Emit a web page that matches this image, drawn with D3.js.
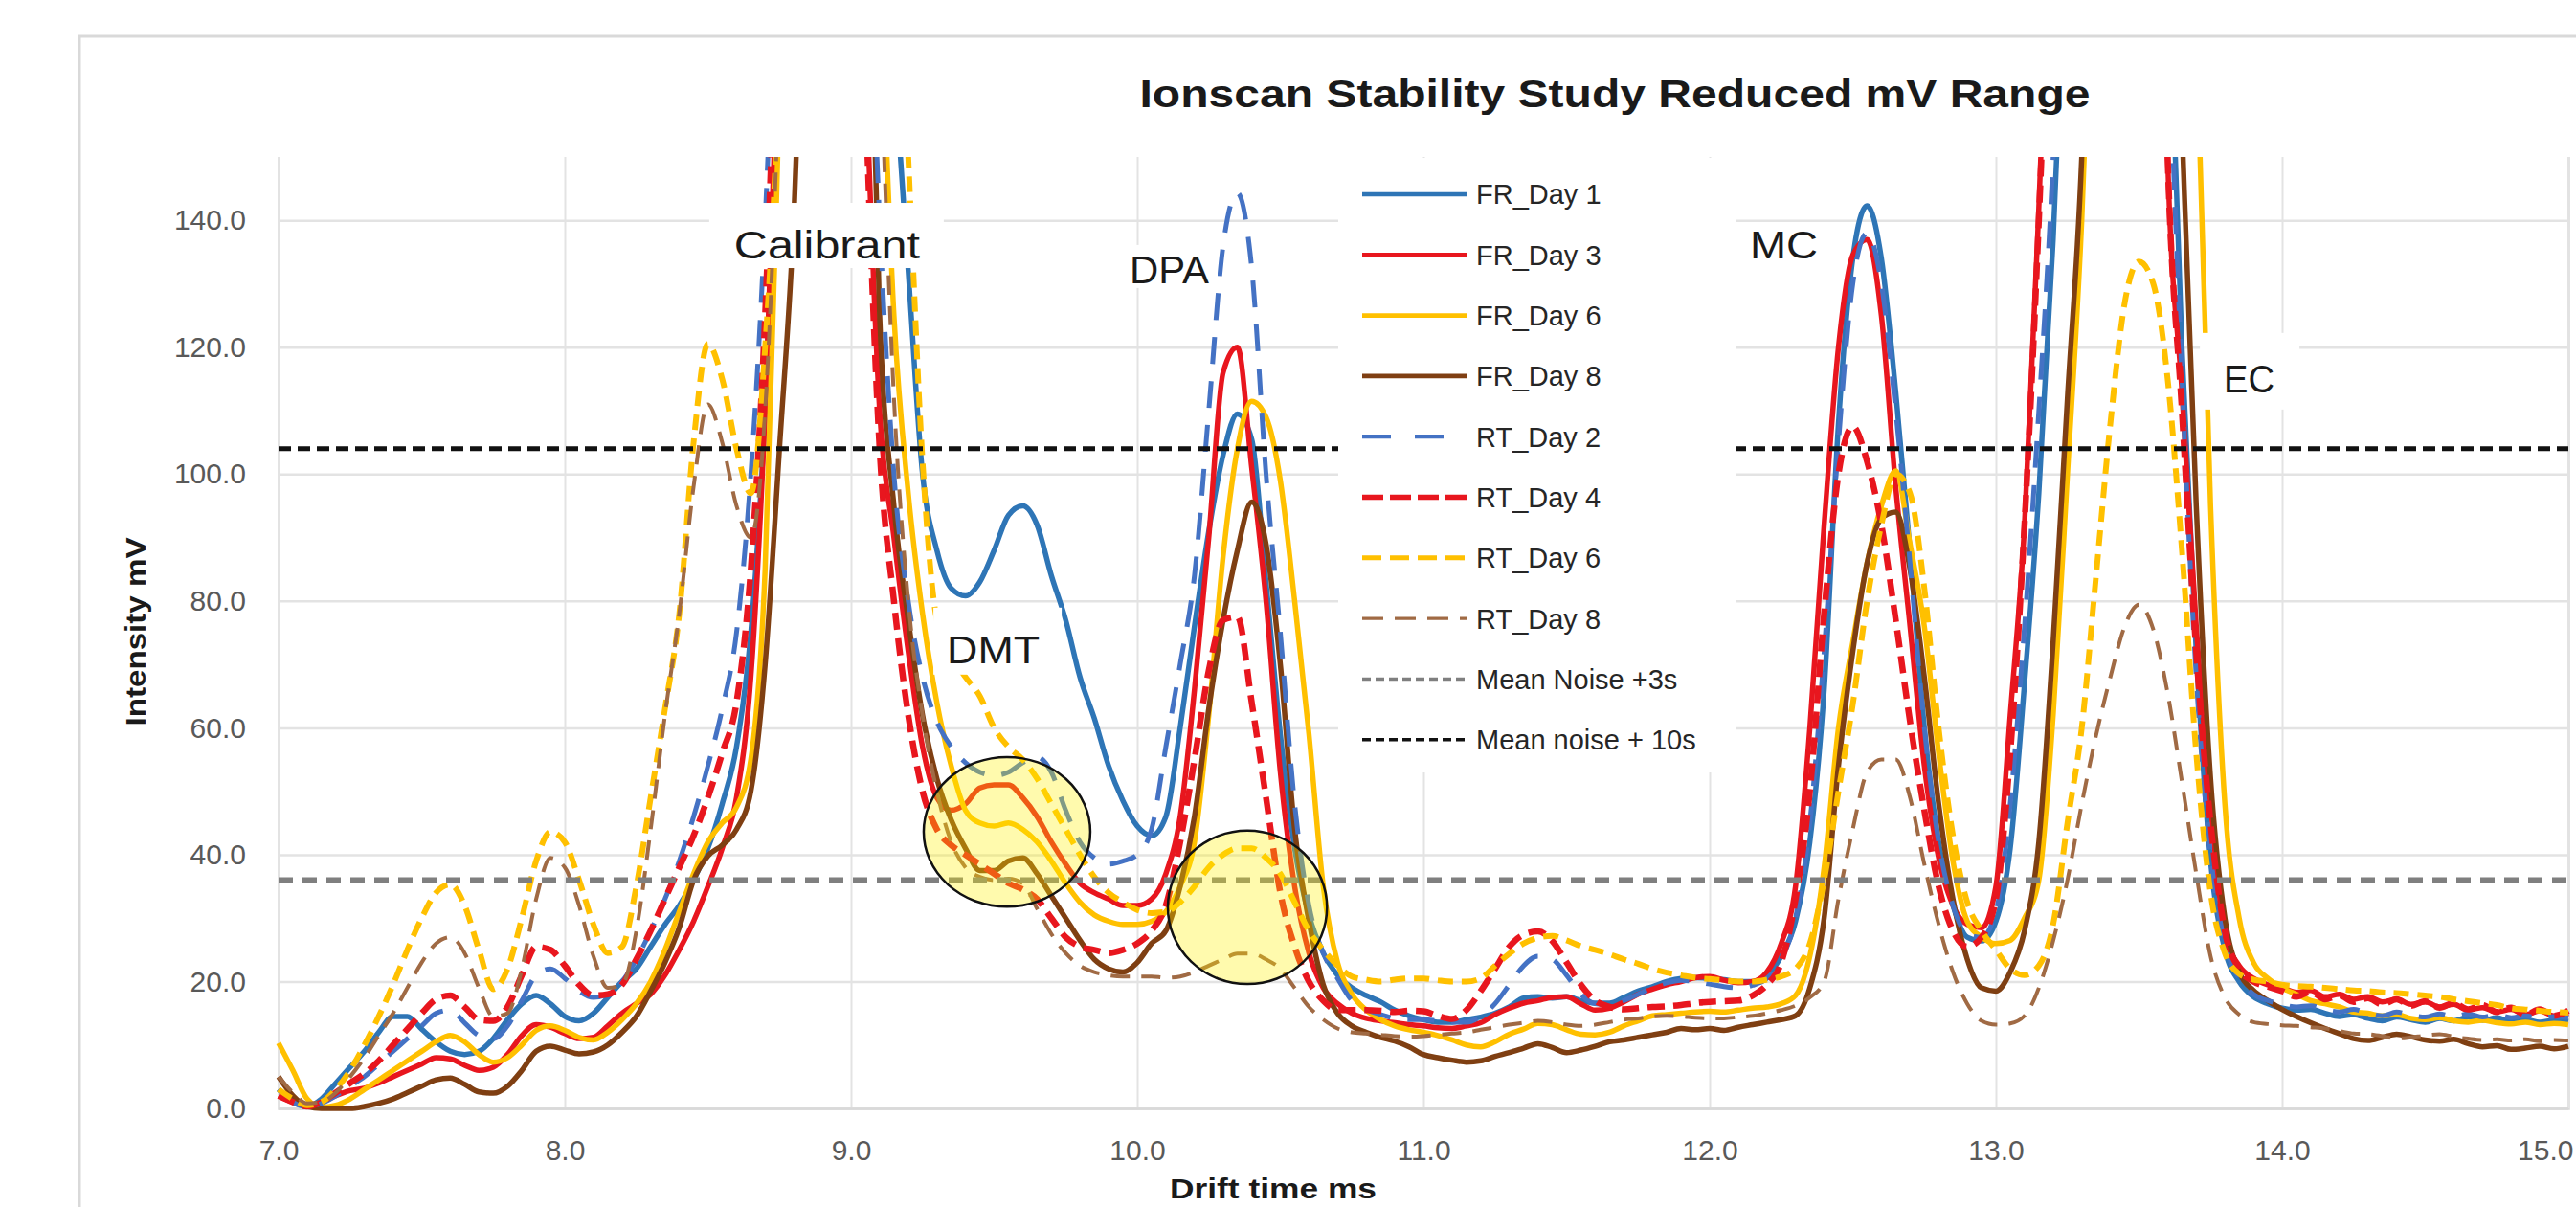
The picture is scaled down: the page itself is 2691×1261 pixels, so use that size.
<!DOCTYPE html>
<html>
<head>
<meta charset="utf-8">
<script src="https://cdn.jsdelivr.net/npm/d3@7"></script>
<style>
html,body{margin:0;padding:0;background:#ffffff;}
svg{display:block;}
</style>
</head>
<body>
<script>
// ---------------- DATA ----------------
const driftTime = [
 7.00,7.05,7.10,7.15,7.20,7.25,7.30,7.35,7.40,7.45,
 7.50,7.55,7.60,7.65,7.70,7.75,7.80,7.85,7.90,7.95,
 8.00,8.05,8.10,8.15,8.20,8.25,8.30,8.35,8.40,8.45,
 8.50,8.55,8.60,8.65,8.70,8.75,8.80,8.85,8.90,8.95,
 9.00,9.05,9.10,9.15,9.20,9.25,9.30,9.35,9.40,9.45,
 9.50,9.55,9.60,9.65,9.70,9.75,9.80,9.85,9.90,9.95,
 10.00,10.05,10.10,10.15,10.20,10.25,10.30,10.35,10.40,10.45,
 10.50,10.55,10.60,10.65,10.70,10.75,10.80,10.85,10.90,10.95,
 11.00,11.05,11.10,11.15,11.20,11.25,11.30,11.35,11.40,11.45,
 11.50,11.55,11.60,11.65,11.70,11.75,11.80,11.85,11.90,11.95,
 12.00,12.05,12.10,12.15,12.20,12.25,12.30,12.35,12.40,12.45,
 12.50,12.55,12.60,12.65,12.70,12.75,12.80,12.85,12.90,12.95,
 13.00,13.05,13.10,13.15,13.20,13.25,13.30,13.35,13.40,13.45,
 13.50,13.55,13.60,13.65,13.70,13.75,13.80,13.85,13.90,13.95,
 14.00,14.05,14.10,14.15,14.20,14.25,14.30,14.35,14.40,14.45,
 14.50,14.55,14.60,14.65,14.70,14.75,14.80,14.85,14.90,14.95,
 15.00
];

const frDay1 = [
 3,1,0.3,1.5,4,6.5,9,12,14.5,14.5,
 12.5,10.5,9,8.5,9,11,14,16.5,17.8,16.5,
 14.5,13.8,15,17.5,20,22,25.5,29,32,36,
 41,48,57,75,110,170,260,320,350,330,
 290,240,200,165,132,100,88,82,80.8,83,
 88,93.5,95,92,84,77,68,61.5,54,48.5,
 44.5,43,46,60,76,91,103,109.5,105.5,83,
 59,41,30.5,24.5,21,19,17.8,16.8,15.5,14.6,
 14,13.6,13.6,14,14.4,15,16,17.4,17.6,17.4,
 17.6,17,16.6,16.6,17.5,18.5,19.2,20,20.5,20.6,
 20.5,20.3,20,20,21,24,29.5,42,66,108,
 134,142.3,134,113,88,60,42,32,27,26.4,
 29.5,41,67,97,137,190,260,320,350,350,
 320,260,185,120,72,39,25,20,17.6,16.5,
 15.8,15.5,15.6,15,14.5,14.8,14.2,13.8,14.4,14,
 13.6,14.2,13.8,14.4,13.9,14.3,13.7,14,13.6,13.9,
 13.7
];
const frDay3 = [
 2,1,0.5,1,2,2.8,3.2,4,5,6,
 7,8,7.8,6.8,6,6.5,8.5,11.5,13.2,12.8,
 11.8,11,11.2,13,15,16.5,18,21,25,29.5,
 35,41,49,68,110,175,260,320,340,300,
 230,165,110,90,72,57,49,47,48,50.5,
 51,51,49,46,42,38.5,35.5,34,33,32,
 32,33,37,46,66,90,116,120,101,80,
 53,35,24.5,19,16.5,15,14.2,13.8,13.5,13.2,
 13,12.7,12.6,13,13.5,14.8,15.8,16.6,17,17.5,
 17.6,16.5,15.5,15.8,16.8,18,18.8,19.5,20,20.6,
 20.8,20.2,19.8,20,21.5,26,35,60,92,120,
 134.5,137,125,98,76,54,39.5,32,29,28.5,
 35,62,92,142,200,270,330,360,370,360,
 340,270,150,113,76,48,27.5,22.5,20.5,19.5,
 19,18.3,18.6,17.6,18,17.2,17.6,16.8,17.2,16.4,
 16.8,16,16.4,15.5,15.9,15.2,15.6,14.8,15.4,14.6,
 15
];
const frDay6 = [
 10.3,6,1.5,0.2,0.5,1.5,3,4.5,6,7.5,
 9,10.5,11.5,10.5,8.5,7.3,8,10,12.3,13,
 12.3,11.2,10.8,12,14,16.5,20,25,31,37,
 42,45,47.5,55,85,160,240,310,340,330,
 290,240,180,125,97,78,64,54,47,45,
 44.5,45,44,42,39,35.5,32.5,30.5,29.5,29,
 29,29.5,31,35,42,62,87,104,111.5,109,
 99,80,59,35,23,18,15.5,14,13,12.4,
 12,11.5,10.8,10,9.7,10.5,11.7,12.5,13.4,13.2,
 12.4,11.7,11.6,12,13,13.8,14.6,14.8,15,15.2,
 15.3,15.2,15.5,15.8,16,16.5,17.8,24,38,60,
 73.5,86,95,100.5,89,76,56,39,29.5,27,
 26,26.5,30,36,62,100,140,200,260,300,
 320,300,260,220,170,95,48,30,23,20.5,
 19,18,17,16.5,16,15.2,15,14.6,14.8,14.2,
 14,14.3,13.8,13.6,13.9,13.5,13.3,13.6,13.2,13.4,
 13.2
];
const frDay8 = [
 5,2,0.3,0,0,0,0.3,0.8,1.5,2.5,
 3.5,4.5,4.8,3.8,2.6,2.4,3.5,6,9,9.8,
 9.2,8.6,8.9,10,12,14.5,18.5,23,28.5,36,
 39.8,41.5,44,50,70,104,140,200,280,320,
 280,210,125,95,77,62,52,45.5,41,37.5,
 37.5,39,39.5,37,33.5,30,26.5,23.5,22,21.5,
 23,26,28,35,46,63,77,88,95.6,89,
 70,44,29.5,19.5,15,13,12,11.2,10.6,9.7,
 8.5,8,7.6,7.3,7.5,8.2,8.8,9.5,10.2,9.6,
 8.8,9.2,9.8,10.5,10.8,11.2,11.6,12,12.6,12.4,
 12.6,12.3,12.8,13.2,13.6,14,14.6,19,30,54,
 72,86,93,94,85,68,48,33,23.5,19,
 18.5,21.5,28,42,73.6,112,150,220,280,320,
 330,290,220,155,95,52,30,21.5,18.6,17,
 15.6,14.5,13.5,12.6,11.8,11,10.7,11.2,11.7,11.3,
 10.8,10.6,10.9,10.2,9.7,9.9,9.3,9.5,9.8,9.4,
 9.8
];
const rtDay2 = [
 3,1,0.2,0.8,2,3.5,5,7,9,11,
 13,15,15.5,13.5,11.5,11,13,17,21,22,
 20.5,18.5,17.5,18,20,23.5,28,33,39,46,
 54,63,75,100,140,200,280,330,350,320,
 260,200,140,100,80,68,61,57,54.5,53,
 52.5,53,54.5,55.4,53,47,42,39.5,38.5,39,
 40,44,57,70,84,110,136,144.3,132.5,100,
 75,48,32,24.5,20.5,17,15.6,14.8,14.2,14,
 14,13.8,13.6,13.6,14.5,16.5,19.5,22.5,24,23.5,
 21,18,16.5,16.3,17,18,19,19.8,20.2,20,
 19.6,19.2,19,19.4,20.5,23.5,30,45,72,105,
 130,138,130,110,86,60,42,32,27.5,27,
 31,48,76,110,150,210,280,330,350,345,
 310,250,175,115,68,40,26,20.5,18,17,
 16.4,16,16.2,15.6,15.2,15.6,15,14.6,15.2,14.7,
 14.4,14.9,14.5,14.9,14.4,14.8,14.3,14.6,14.2,14.5,
 14.3
];
const rtDay4 = [
 2,1,0.3,1,2.5,4,5.5,7.5,10,12.5,
 15,17.2,17.8,16,14,13.8,16,21,25.5,25,
 22.5,19.5,17.8,18,19.5,23.5,28,33,38,43,
 49,56,64,85,125,190,270,330,350,320,
 230,160,104,80,62,50,44,41.5,40,38.5,
 37,35.5,34.5,33,30,27,25.5,25,24.5,25,
 26,28,32,42,55,69,77,77.5,64,49,
 34,25.5,20,17,15.5,15.5,15.5,15.4,15.2,15.4,
 15.3,14.6,14.1,15.5,18.5,22,25.5,27.4,27.9,26.4,
 23,19.5,17,16,15.6,15.8,16,16.1,16.3,16.6,
 16.8,16.9,17,17.8,19.5,23,33,50,78,100,
 107.5,102,92,77,61,47,35,28,25.5,27,
 33,56,92,140,200,270,330,360,370,360,
 330,250,150,110,72,45,28,22,20,19.2,
 18.5,17.6,18.4,17.2,17.8,16.8,17.4,16.4,17.2,16.2,
 16.9,15.9,16.6,15.6,16.3,15.2,15.9,14.8,15.6,14.6,
 15.4
];
const rtDay6 = [
 3,1.5,0.5,1,3,6,10,14.5,19.5,25,
 30,34,35.3,32,25,18.8,22,30,39,43.6,
 42,36,29,24.5,25.5,35,49,63,78,105,
 120.5,115,104,97,120,165,250,320,350,350,
 340,300,250,200,150,102,77,71.5,68,65,
 60,57,55,52,48,44,40,36.5,34,32.5,
 31.3,30.8,31,32.5,35,38,40,41,41,39.5,
 37,32.5,28,25,22.5,20.8,20.3,20,20.3,20.5,
 20.5,20.2,20,20,20.5,22.5,24.4,26,26.9,27.2,
 26.5,25.6,25,24.3,23.5,22.8,22,21.4,21,20.6,
 20.4,20.2,20,20,20.3,20.8,22,26,36,50,
 63.7,80,92,100,97,82,60,43,32.5,28,
 25,22,21,22.5,29,45,60,84,108,127,
 133.5,130,115,88,56,34,24.5,21.2,20.3,20,
 19.5,19.3,19.2,19,18.8,18.6,18.5,18.3,18.2,18,
 17.8,17.6,17.2,16.9,16.6,16.3,15.8,15.6,15.4,15.2,
 15.1
];
const rtDay8 = [
 5,2.5,0.8,1,2.5,5,8,11.5,15,19,
 23,26,27,24.5,19,14.5,15,22,33,39.5,
 38,32,24,19,19.5,28,44,62,78,98,
 111,105,95,90,110,165,250,320,350,340,
 300,240,170,112,80,62,50,42,38,36.5,
 36,36.2,35.5,31.5,27.5,24.5,22.5,21.5,21,20.8,
 20.8,20.8,20.6,20.8,21.5,22.5,23.5,24.4,24.4,23.5,
 22,19,16,14,12.6,12,11.8,11.6,11.4,11.3,
 11.4,11.6,11.8,12,12.4,12.8,13.2,13.5,13.8,13.6,
 13.2,13,13.2,13.6,14,14.2,14.5,14.6,14.5,14.3,
 14.2,14.2,14.4,14.6,15,15.5,16.2,17.5,20,33,
 44,53,55,55,49,38.5,29,21.5,16.5,13.8,
 13.2,13.4,14.6,19,26.4,36,48,58.8,68,76,
 79.4,75.5,65.5,51.5,37,24,17.5,14.8,13.6,13.3,
 13.1,13,12.8,12.6,12.2,11.8,11.7,11.4,11,11.2,
 11.5,11.7,11.3,11,10.8,10.9,10.7,10.9,10.6,10.8,
 10.7
];

const seriesNames = ["FR_Day 1","FR_Day 3","FR_Day 6","FR_Day 8","RT_Day 2","RT_Day 4","RT_Day 6","RT_Day 8"];
const seriesValues = [frDay1, frDay3, frDay6, frDay8, rtDay2, rtDay4, rtDay6, rtDay8];

const noiseNames = ["Mean Noise +3s", "Mean noise + 10s"];
const noiseLevels = [36.0, 104.0];

const xTickValues = [7,8,9,10,11,12,13,14,15];
const yTickValues = [0,20,40,60,80,100,120,140];

const chartTitle = "Ionscan Stability Study Reduced mV Range";
const xAxisTitle = "Drift time ms";
const yAxisTitle = "Intensity mV";

// peak annotations (text, drift time, intensity of baseline)
const peakLabels = ["Calibrant","DPA","DMT","MC","EC"];
const peakLabelT = [8.916, 10.112, 9.497, 12.259, 13.885];
const peakLabelV = [134.0, 130.1, 70.2, 134.0, 112.9];
// highlight ellipses (centre drift time, centre intensity, half-width ms, half-height mV)
const circleT = [9.545, 10.385];
const circleV = [43.6, 31.7];
const circleRT = [0.291, 0.278];
const circleRV = [11.8, 12.1];

// ---------------- STYLES ----------------
const seriesColors = ["#2E75B6","#E8161E","#FFC000","#7F3F12","#4472C4","#E8161E","#FFC000","#A06A44"];
const seriesWidths = [5.5,5.5,5.5,5.5,5,6.5,6,4];
const seriesDash   = [null,null,null,null,"28,18","18,9","16,9","20,12"];
const noiseColors = ["#7F7F7F","#111111"];
const noiseWidths = [6,5];
const noiseDash = ["15,10","13,7"];

const FONT = "'Liberation Sans', Arial, sans-serif";
const W = 2691, H = 1261;
const plot = {left: 291, right: 2683, top: 164, bottom: 1158};

const svg = d3.select("body").append("svg").attr("width", W).attr("height", H);

svg.append("rect").attr("x",0).attr("y",0).attr("width",W).attr("height",H).attr("fill","#ffffff");
// chart area border (only left/top visible in the crop)
svg.append("rect").attr("x",83).attr("y",38).attr("width",2700).attr("height",1400)
  .attr("fill","#ffffff").attr("stroke","#D9D9D9").attr("stroke-width",3);

const x = d3.scaleLinear().domain([7,15]).range([plot.left, plot.right]);
const y = d3.scaleLinear().domain([0,150]).range([plot.bottom, plot.top]);

// axes + gridlines
const xAxis = d3.axisBottom(x).tickValues(xTickValues).tickFormat(d3.format(".1f"))
  .tickSize(-(plot.bottom - plot.top)).tickPadding(33);
const gx = svg.append("g").attr("transform", `translate(0,${plot.bottom})`).call(xAxis);
gx.select(".domain").attr("stroke","#D9D9D9").attr("stroke-width",2.5);
gx.selectAll(".tick line").attr("stroke","#E3E3E3").attr("stroke-width",2);
gx.selectAll(".tick text").attr("fill","#595959").style("font-family",FONT).style("font-size","30px");
// keep the last label inside the picture
gx.selectAll(".tick text").filter(d => d === 15).attr("text-anchor","end").attr("x", (W - 3) - x(15));

const yAxis = d3.axisLeft(y).tickValues(yTickValues).tickFormat(d3.format(".1f"))
  .tickSize(-(plot.right - plot.left)).tickPadding(34);
const gy = svg.append("g").attr("transform", `translate(${plot.left},0)`).call(yAxis);
gy.select(".domain").remove();
gy.selectAll(".tick line").attr("stroke", d => d === 0 ? "#D9D9D9" : "#E3E3E3").attr("stroke-width",2.5);
gy.selectAll(".tick text").attr("fill","#595959").style("font-family",FONT).style("font-size","30px");

// clip
svg.append("defs").append("clipPath").attr("id","plotClip")
  .append("rect").attr("x",plot.left-10).attr("y",plot.top).attr("width",plot.right-plot.left+20).attr("height",plot.bottom-plot.top+40);

const line = d3.line()
  .x((d,i) => x(driftTime[i]))
  .y(d => y(d))
  .curve(d3.curveMonotoneX);

const gLines = svg.append("g").attr("clip-path","url(#plotClip)");
seriesValues.forEach((vals, k) => {
  gLines.append("path")
    .datum(vals)
    .attr("d", line)
    .attr("fill","none")
    .attr("stroke", seriesColors[k])
    .attr("stroke-width", seriesWidths[k])
    .attr("stroke-dasharray", seriesDash[k])
    .attr("stroke-linejoin","round");
});

// noise threshold lines
noiseLevels.forEach((lv, k) => {
  gLines.append("line")
    .attr("x1", x(7)).attr("x2", x(15))
    .attr("y1", y(lv)).attr("y2", y(lv))
    .attr("stroke", noiseColors[k]).attr("stroke-width", noiseWidths[k])
    .attr("stroke-dasharray", noiseDash[k]);
});

// highlight ellipses
circleT.forEach((t, k) => {
  const cx = x(t), cy = y(circleV[k]);
  const rx = x(t + circleRT[k]) - cx, ry = cy - y(circleV[k] + circleRV[k]);
  svg.append("ellipse").attr("cx",cx).attr("cy",cy).attr("rx",rx).attr("ry",ry)
    .attr("fill","#FFEE00").attr("fill-opacity",0.32)
    .attr("stroke","#111111").attr("stroke-width",2.5);
});

// peak labels with white text boxes
const labelWidths = [194, 83, 97, 71, 53];
const boxPad = [[26,58,10,25],[8,40,5,9],[14,58,12,23],[10,38,10,10],[25,62,18,26]]; // left, top(above baseline), bottom(below), right
peakLabels.forEach((txt, k) => {
  const cx = x(peakLabelT[k]), by = y(peakLabelV[k]);
  const w = labelWidths[k], p = boxPad[k];
  svg.append("rect")
    .attr("x", cx - w/2 - p[0]).attr("y", by - p[1])
    .attr("width", w + p[0] + p[3]).attr("height", p[1] + p[2])
    .attr("fill","#ffffff");
  svg.append("text").attr("x",cx).attr("y",by)
    .attr("text-anchor","middle")
    .attr("textLength", w).attr("lengthAdjust","spacingAndGlyphs")
    .style("font-family",FONT).style("font-size","40px").attr("fill","#1a1a1a")
    .text(txt);
});

// legend
const legend = svg.append("g");
legend.append("rect").attr("x",1398).attr("y",165).attr("width",416).attr("height",642).attr("fill","#ffffff");
const legendRow0 = 203, legendStep = 63.3;
const legendItems = seriesNames.map((n,k) => ({name:n, color:seriesColors[k], width:seriesWidths[k]*0.85, dash:seriesDash[k]}))
  .concat(noiseNames.map((n,k) => ({name:n, color:noiseColors[k], width:3.5, dash:"9,5"})));
legendItems[4].dash = "30,25";
legendItems[5].dash = "22,7";
legendItems[6].dash = "20,9";
legendItems[7].dash = "22,12";
legendItems.forEach((it, i) => {
  const ly = legendRow0 + i*legendStep;
  legend.append("line").attr("x1",1423).attr("x2",1532).attr("y1",ly).attr("y2",ly)
    .attr("stroke",it.color).attr("stroke-width",it.width).attr("stroke-dasharray",it.dash);
  legend.append("text").attr("x",1542).attr("y",ly).attr("dy","0.36em")
    .style("font-family",FONT).style("font-size","29px").attr("fill","#262626")
    .text(it.name);
});

// titles
svg.append("text").attr("x",1687).attr("y",112).attr("text-anchor","middle")
  .attr("textLength",993).attr("lengthAdjust","spacingAndGlyphs")
  .style("font-family",FONT).style("font-size","40px").style("font-weight","bold").attr("fill","#1a1a1a")
  .text(chartTitle);
svg.append("text").attr("x",1330).attr("y",1252).attr("text-anchor","middle")
  .attr("textLength",216).attr("lengthAdjust","spacingAndGlyphs")
  .style("font-family",FONT).style("font-size","29px").style("font-weight","bold").attr("fill","#1a1a1a")
  .text(xAxisTitle);
svg.append("text").attr("transform","translate(152,660) rotate(-90)").attr("text-anchor","middle")
  .attr("textLength",197).attr("lengthAdjust","spacingAndGlyphs")
  .style("font-family",FONT).style("font-size","30px").style("font-weight","bold").attr("fill","#1a1a1a")
  .text(yAxisTitle);
</script>
</body>
</html>
